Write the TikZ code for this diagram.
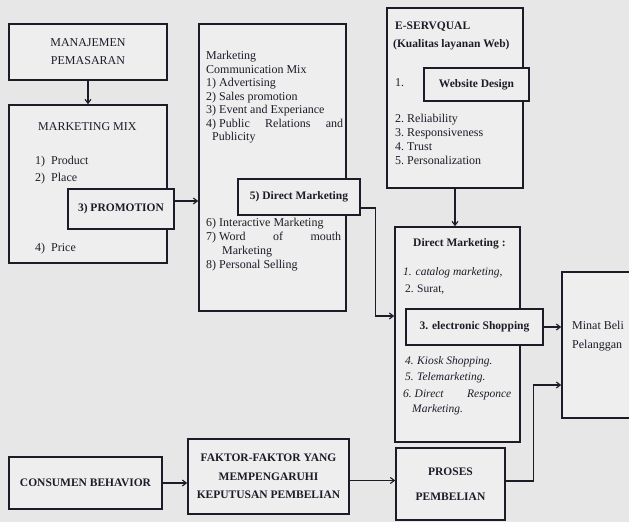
\documentclass[tikz,border=0pt]{standalone}
\usepackage{fontspec}
\setmainfont{Liberation Serif}
\usetikzlibrary{arrows.meta}
\definecolor{paper}{RGB}{231,231,231}
\definecolor{boxfill}{RGB}{238,238,238}
\definecolor{ink}{RGB}{28,28,40}

\begin{document}
\begin{tikzpicture}
      [%%%%%%%%%%%%%%%%%%%%%%%%%%%%%%
      x=1pt,y=-1pt,
      font=\fontsize{12}{14}\selectfont,
      box/.style={rectangle,draw=ink,line width=1.6pt,fill=boxfill,inner sep=0pt,text=ink},
      hd/.style={align=center,font=\fontsize{11.5}{18.5}\selectfont\bfseries},
      txt/.style={anchor=mid west,inner sep=0pt,text=ink},
      btxt/.style={txt,font=\fontsize{11.5}{14}\selectfont\bfseries},
      itxt/.style={txt,font=\fontsize{11.5}{14}\selectfont\itshape},
      arr/.style={draw=ink,line width=1.1pt,-{Straight Barb[length=4pt,width=6pt]}},
      ]%%%%%%%%%%%%%%%%%%%%%%%%%%%%%%

      \fill[paper] (0,0) rectangle (629,522);
      \clip (0,0) rectangle (629,522);

      % left column
      \node[box,minimum width=158pt,minimum height=56pt,align=center,
            font=\fontsize{12}{18}\selectfont] (manaj) at (88,52) {MANAJEMEN\\PEMASARAN};
      \node[box,minimum width=158pt,minimum height=158pt] (mmix) at (88,184) {};
      \node[txt] at (38,128) {MARKETING MIX};
      \node[txt] at (35,162) {\makebox[16pt][l]{1)}Product};
      \node[txt] at (35,179) {\makebox[16pt][l]{2)}Place};
      \node[txt] at (35,249) {\makebox[16pt][l]{4)}Price};
      \node[box,hd,minimum width=106pt,minimum height=40pt] (promo) at (121,209) {3) PROMOTION};

      \node[box,hd,minimum width=153pt,minimum height=52pt] (cons) at (85.5,483) {CONSUMEN BEHAVIOR};

      % marketing communication mix
      \node[box,minimum width=147pt,minimum height=287pt] (mcom) at (272.5,167.5) {};
      \node[txt] at (206,57) {Marketing};
      \node[txt] at (206,71) {Communication Mix};
      \node[txt] at (206,84) {1) Advertising};
      \node[txt] at (206,98) {2) Sales promotion};
      \node[txt] at (206,111) {3) Event and Experiance};
      \node[txt] at (206,125) {\makebox[137pt][l]{4)~Public\hfill Relations\hfill and}};
      \node[txt] at (212,138) {Publicity};
      \node[box,hd,minimum width=122pt,minimum height=36pt] (dmark5) at (299,197) {5) Direct Marketing};
      \node[txt] at (206,224) {6) Interactive Marketing};
      \node[txt] at (206,238) {\makebox[135pt][l]{7)~Word\hfill of\hfill mouth}};
      \node[txt] at (222,252) {Marketing};
      \node[txt] at (206,266) {8) Personal Selling};

      \node[box,hd,minimum width=161pt,minimum height=75pt] (faktor) at (268.5,476.5)
            {FAKTOR-FAKTOR YANG\\MEMPENGARUHI\\KEPUTUSAN PEMBELIAN};

      % e-servqual
      \node[box,minimum width=136pt,minimum height=180pt] (eserv) at (455,98) {};
      \node[btxt] at (395,27) {E-SERVQUAL};
      \node[btxt] at (393,45) {(Kualitas layanan Web)};
      \node[txt] at (395,84) {1.};
      \node[box,hd,minimum width=105pt,minimum height=33pt] (webd) at (476.5,84.5) {Website Design};
      \node[txt] at (395,120) {\makebox[12pt][l]{2.}Reliability};
      \node[txt] at (395,134) {\makebox[12pt][l]{3.}Responsiveness};
      \node[txt] at (395,148) {\makebox[12pt][l]{4.}Trust};
      \node[txt] at (395,162) {\makebox[12pt][l]{5.}Personalization};

      % direct marketing
      \node[box,minimum width=125pt,minimum height=215pt] (dmark) at (457.5,334.5) {};
      \node[btxt] at (413,244) {Direct Marketing :};
      \node[itxt] at (403,273) {1. catalog marketing,};
      \node[txt,font=\fontsize{11.5}{14}\selectfont] at (405,290) {\makebox[12pt][l]{2.}Surat,};
      \node[box,hd,minimum width=137pt,minimum height=36pt] (eshop) at (474.5,327) {3. electronic Shopping};
      \node[itxt] at (405,362) {\makebox[12pt][l]{4.}Kiosk Shopping.};
      \node[itxt] at (405,378) {\makebox[12pt][l]{5.}Telemarketing.};
      \node[itxt] at (403,395) {\makebox[108pt][l]{6.~Direct\hfill Responce}};
      \node[itxt] at (412,410) {Marketing.};

      \node[box,hd,minimum width=109pt,minimum height=72pt] (proses) at (450.5,484) {PROSES\\[7pt]PEMBELIAN};

      % minat beli
      \node[box,minimum width=88pt,minimum height=146pt] (minat) at (606,345) {};
      \node[txt] at (572,327) {Minat Beli};
      \node[txt] at (572,346) {Pelanggan};

      % connectors
      \draw[arr] (manaj.south) -- (mmix.north);
      \draw[arr] ([yshift=8pt]promo.east) -- ([yshift=8pt]promo.east -| mcom.west);
      \draw[arr] ([yshift=-11pt]dmark5.east) -- ++(15,0) |- ([yshift=18.5pt]dmark.west);
      \draw[arr] (eserv.south) -- (eserv.south |- dmark.north);
      \draw[arr] (eshop.east) -- (eshop.east -| minat.west);
      \draw[arr] (cons.east) -- (cons.east -| faktor.west);
      \draw[arr] ([yshift=-4pt]faktor.east) -- ([yshift=-4pt]faktor.east -| proses.west);
      \draw[arr] ([yshift=3pt]proses.east) -- ++(28,0) |- ([yshift=-40pt]minat.west);
    \end{tikzpicture}
\end{document}
